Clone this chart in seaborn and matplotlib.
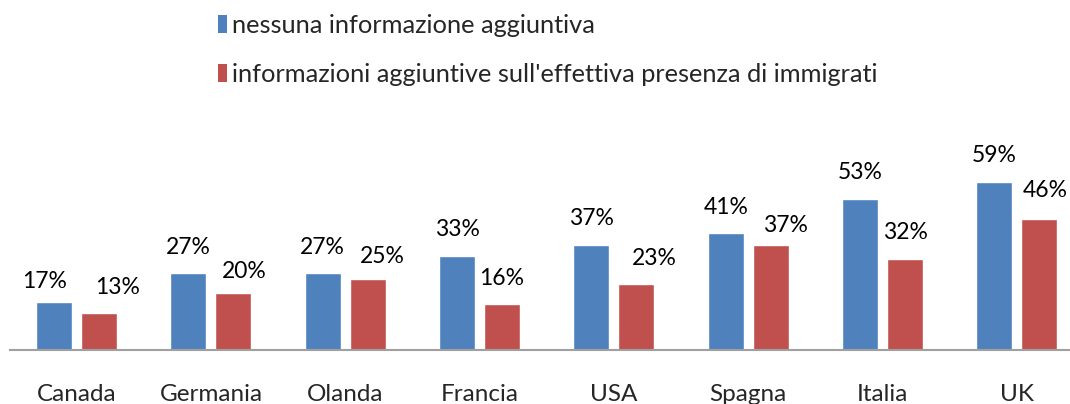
import pandas as pd
import matplotlib.pyplot as plt
import seaborn as sns
from matplotlib.patches import Patch

paesi = ["Canada", "Germania", "Olanda", "Francia", "USA", "Spagna", "Italia", "UK"]
serie = ["nessuna informazione aggiuntiva",
         "informazioni aggiuntive sull'effettiva presenza di immigrati"]
nessuna_info = [17, 27, 27, 33, 37, 41, 53, 59]
con_info = [13, 20, 25, 16, 23, 37, 32, 46]

colori = ["#4F81BD", "#C0504D"]

# nudges (px) Excel applied to some labels to avoid overlaps
spost_blu = [(-10, -6), (0, 0), (0, 0), (0, 0), (0, 0), (0, 0), (0, 0), (0, 0)]
spost_rosso = [(18, -1), (11, -5), (15, -4), (0, 0), (18, 0), (15, -7), (0, 0), (6, 2)]

df = pd.DataFrame({
    "paese": paesi * 2,
    "serie": [serie[0]] * len(paesi) + [serie[1]] * len(paesi),
    "valore": nessuna_info + con_info,
})

sns.set_theme(style="white")
plt.rcParams["font.family"] = ["Lato", "DejaVu Sans"]

W, H = 1070, 404
fig = plt.figure(figsize=(W / 100, H / 100), dpi=100)
px_per_unit = 2.85
ax_top_px, ax_bot_px = 100, 350
ax = fig.add_axes([9.5 / W, (H - ax_bot_px) / H, 1074.5 / W, (ax_bot_px - ax_top_px) / H])

sns.barplot(data=df, x="paese", y="valore", hue="serie", palette=colori,
            width=0.67, gap=0.2, ax=ax, legend=False, saturation=1)

ax.set_ylim(0, (ax_bot_px - ax_top_px) / px_per_unit)
ax.set_xlim(-0.5, len(paesi) - 0.5)
ax.set_xlabel("")
ax.set_ylabel("")
ax.set_yticks([])
for s in ["left", "right", "top"]:
    ax.spines[s].set_visible(False)
ax.spines["bottom"].set_color("#A0A0A0")
ax.spines["bottom"].set_linewidth(1.5)
ax.tick_params(axis="x", length=0, pad=24.5, labelsize=17.5)

for cont, vals, spost in zip(ax.containers, [nessuna_info, con_info], [spost_blu, spost_rosso]):
    for bar, v, (dx, dy) in zip(cont, vals, spost):
        x = bar.get_x() + bar.get_width() / 2
        ax.annotate(f"{v}%", (x, bar.get_height()),
                    xytext=(dx * 0.72, (26 + dy) * 0.72), textcoords="offset points",
                    ha="center", va="center", fontsize=16.5, color="black")

handles = [Patch(facecolor=c, edgecolor="none") for c in colori]
fig.legend(handles, serie, loc="upper left", bbox_to_anchor=(208 / W, 1 - 4 / H),
           frameon=False, fontsize=18.3, handlelength=0.36, handleheight=0.7,
           handletextpad=0.2, labelspacing=1.02, borderaxespad=0)

fig.savefig("out.png", dpi=100)
